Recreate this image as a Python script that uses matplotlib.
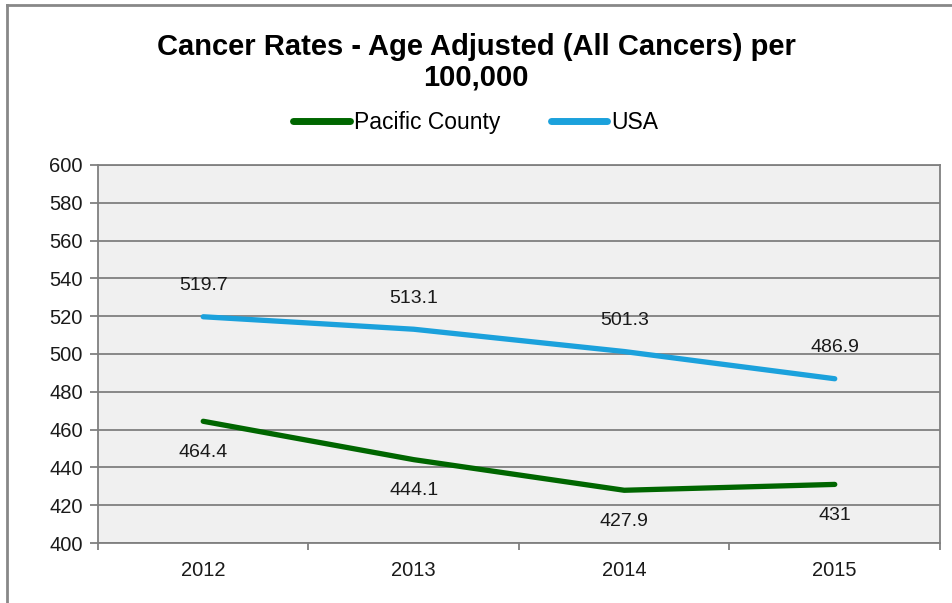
import matplotlib.pyplot as plt
from matplotlib.lines import Line2D

plt.rcParams['font.family'] = ['Liberation Sans', 'DejaVu Sans']

# Data
years = ['2012', '2013', '2014', '2015']
pacific = [464.4, 444.1, 427.9, 431]
usa = [519.7, 513.1, 501.3, 486.9]
pacific_labels = ['464.4', '444.1', '427.9', '431']
usa_labels = ['519.7', '513.1', '501.3', '486.9']

fig = plt.figure(figsize=(9.52, 6.03), dpi=100)
ax = fig.add_axes([0.1029, 0.0995, 0.8845, 0.6269])
ax.set_facecolor('#f0f0f0')

x = range(len(years))
ax.plot(x, pacific, color='#006600', lw=3.8, solid_capstyle='round', label='Pacific County')
ax.plot(x, usa, color='#1ba1dc', lw=3.8, solid_capstyle='round', label='USA')

for i, (v, t) in enumerate(zip(usa, usa_labels)):
    ax.annotate(t, (i, v), xytext=(0, 31), textcoords='offset pixels',
                ha='center', va='center', fontsize=14, color='#1a1a1a')
for i, (v, t) in enumerate(zip(pacific, pacific_labels)):
    ax.annotate(t, (i, v), xytext=(0, -31), textcoords='offset pixels',
                ha='center', va='center', fontsize=14, color='#1a1a1a')

ax.set_xlim(-0.5, len(years) - 0.5)
ax.set_ylim(400, 600)
ax.set_yticks(range(400, 601, 20))
ax.set_xticks(list(x))
ax.set_xticklabels(years)
ax.set_xticks([i - 0.5 for i in range(len(years) + 1)], minor=True)
ax.tick_params(axis='x', which='major', length=0, pad=13, labelsize=14.5, labelcolor='#1a1a1a')
ax.tick_params(axis='x', which='minor', length=5, color='#808080', width=1.3)
ax.tick_params(axis='y', length=6, color='#808080', width=1.3, labelsize=14.5, labelcolor='#1a1a1a', pad=5)

ax.grid(axis='y', color='#808080', lw=1.3)
ax.set_axisbelow(True)
for s in ax.spines.values():
    s.set_color('#808080')
    s.set_linewidth(1.3)

fig.suptitle('Cancer Rates - Age Adjusted (All Cancers) per\n100,000',
             x=0.5, y=0.945, fontsize=21, fontweight='bold', linespacing=1.12)

fig.legend(loc='center', bbox_to_anchor=(0.5, 0.797), ncol=2, frameon=False,
           fontsize=16.5, handlelength=2.45, handletextpad=0.2, columnspacing=2.2)
for h in fig.legends[0].get_lines():
    h.set_linewidth(5)

# figure border (top and left edges visible)
fig.add_artist(Line2D([0.0074, 1.0], [0.992, 0.992], color='#888888', lw=2, transform=fig.transFigure))
fig.add_artist(Line2D([0.0074, 0.0074], [0.0, 0.992], color='#888888', lw=2, transform=fig.transFigure))

fig.savefig('out.png', dpi=100)
